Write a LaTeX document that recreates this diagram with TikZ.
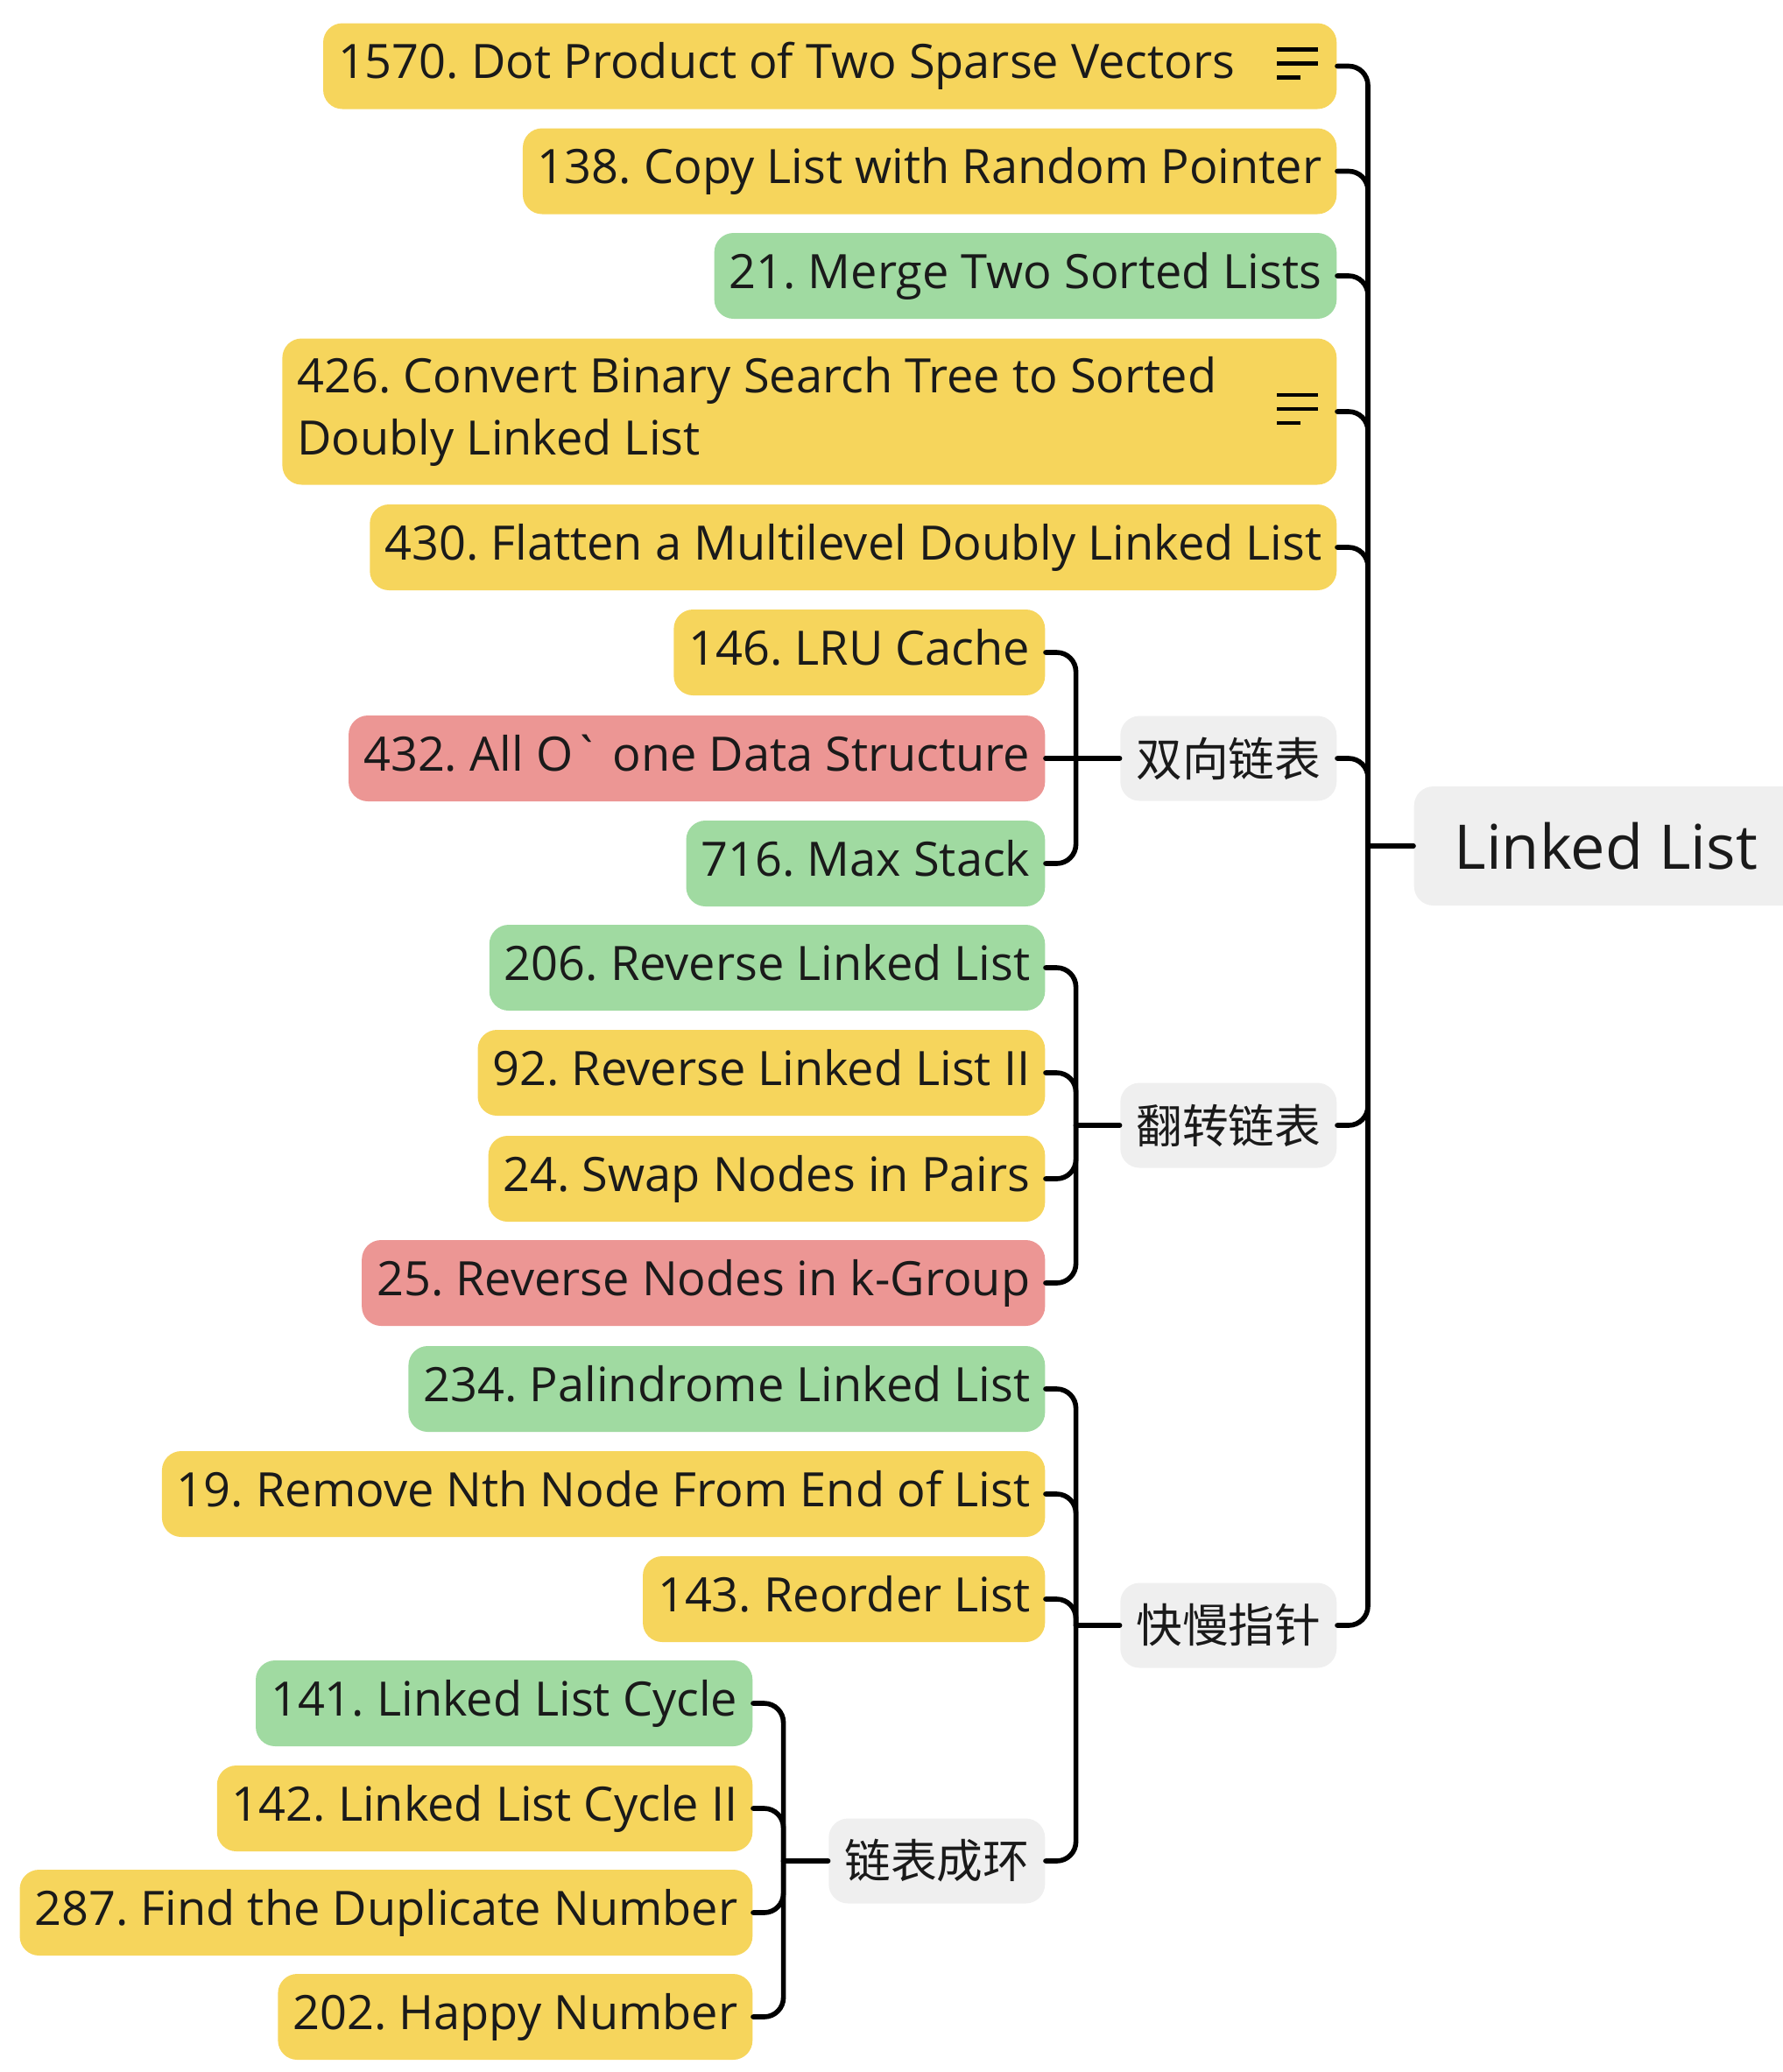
\documentclass[tikz,border=0pt]{standalone}
\usepackage{fontspec}
\setmainfont{Open Sans}
\newfontfamily\cjkfont{Noto Sans CJK SC}
\usetikzlibrary{calc}
\definecolor{easyc}{HTML}{A0DAA1}
\definecolor{mediumc}{HTML}{F6D55C}
\definecolor{hardc}{HTML}{EC9694}
\definecolor{groupc}{HTML}{EFEFEF}
\definecolor{inkc}{HTML}{1A1A1A}
\newcommand{\noteicon}[1]{%
  \draw[line width=1.2pt,line cap=butt] ([xshift=-0.69cm,yshift=0.19cm]#1.east) -- ++(0.47,0)
    ([xshift=-0.69cm,yshift=0.03cm]#1.east) -- ++(0.47,0)
    ([xshift=-0.69cm,yshift=-0.13cm]#1.east) -- ++(0.27,0);}
\newcommand{\gap}[1]{\rule{#1}{0pt}}
\frenchspacing
\begin{document}
\begin{tikzpicture}[line join=round, line cap=round]
	\tikzset{leaf/.style={anchor=east,rounded corners=0.22cm,minimum height=0.98cm,inner xsep=0.17cm,inner ysep=0pt,text=inkc,font=\fontsize{15.4}{20.2}\selectfont,execute at begin node=\strut},
		easy/.style={leaf,fill=easyc},
		medium/.style={leaf,fill=mediumc},
		hard/.style={leaf,fill=hardc},
		group/.style={anchor=east,rounded corners=0.22cm,minimum height=0.97cm,minimum width=2.47cm,fill=groupc,text=inkc,font=\cjkfont\fontsize{15}{18}\selectfont},
		branch/.style={draw=black,line width=1.6pt,rounded corners=0.22cm}}
	\useasboundingbox (0,0) rectangle (20.36,-23.66);
	\node[anchor=west,rounded corners=0.22cm,minimum height=1.36cm,inner xsep=0.46cm,fill=groupc,text=inkc,font=\fontsize{20}{24}\selectfont] (root) at (16.14,-9.66) {Linked List\gap{1cm}};
	\node[medium] (p1570) at (15.27,-0.755) {1570. Dot Product of Two Sparse Vectors\gap{0.99cm}};
	\node[medium] (p138) at (15.27,-1.955) {138. Copy List with Random Pointer};
	\node[easy] (p21) at (15.27,-3.15) {21. Merge Two Sorted Lists};
	\node[medium,minimum height=1.67cm] (p426) at (15.27,-4.70) {\begin{tabular}{@{}l@{}}426. Convert Binary Search Tree to Sorted\\Doubly Linked List\end{tabular}\gap{1.2cm}};
	\node[medium] (p430) at (15.27,-6.25) {430. Flatten a Multilevel Doubly Linked List};
	\node[group] (g1) at (15.27,-8.66) {双向链表};
	\node[group] (g2) at (15.27,-12.85) {翻转链表};
	\node[group] (g3) at (15.27,-18.56) {快慢指针};
	\noteicon{p1570}
	\noteicon{p426}
	\node[medium] (p146) at (11.94,-7.45) {146. LRU Cache};
	\node[hard] (p432) at (11.94,-8.66) {432. All O\textasciigrave{} one Data Structure};
	\node[easy] (p716) at (11.94,-9.86) {716. Max Stack};
	\node[easy] (p206) at (11.94,-11.05) {206. Reverse Linked List};
	\node[medium] (p92) at (11.94,-12.25) {92. Reverse Linked List II};
	\node[medium] (p24) at (11.94,-13.46) {24. Swap Nodes in Pairs};
	\node[hard] (p25) at (11.94,-14.65) {25. Reverse Nodes in k-Group};
	\node[easy] (p234) at (11.94,-15.86) {234. Palindrome Linked List};
	\node[medium] (p19) at (11.94,-17.06) {19. Remove Nth Node From End of List};
	\node[medium] (p143) at (11.94,-18.26) {143. Reorder List};
	\node[group] (g4) at (11.94,-21.25) {链表成环};
	\node[easy] (p141) at (8.60,-19.45) {141. Linked List Cycle};
	\node[medium] (p142) at (8.60,-20.65) {142. Linked List Cycle II};
	\node[medium] (p287) at (8.60,-21.84) {287. Find the Duplicate Number};
	\node[medium] (p202) at (8.60,-23.03) {202. Happy Number};
	\coordinate (j0) at ($(root.west)+(-0.52,0)$);
	\coordinate (j1) at ($(g1.west)+(-0.50,0)$);
	\coordinate (j2) at ($(g2.west)+(-0.50,0)$);
	\coordinate (j3) at ($(g3.west)+(-0.50,0)$);
	\coordinate (j4) at ($(g4.west)+(-0.51,0)$);
	\foreach \c in {p1570,p138,p21,p426,p430,g1,g2,g3}
		\draw[branch] (\c.east) -| (j0);
	\draw[branch] (j0) -- (root.west);
	\foreach \c in {p146,p716}
		\draw[branch] (\c.east) -| (j1);
	\draw[branch] (p432.east) -- (g1.west);
	\foreach \c in {p206,p92,p24,p25}
		\draw[branch] (\c.east) -| (j2);
	\draw[branch] (j2) -- (g2.west);
	\foreach \c in {p234,p19,p143,g4}
		\draw[branch] (\c.east) -| (j3);
	\draw[branch] (j3) -- (g3.west);
	\foreach \c in {p141,p142,p287,p202}
		\draw[branch] (\c.east) -| (j4);
	\draw[branch] (j4) -- (g4.west);
\end{tikzpicture}
\end{document}
